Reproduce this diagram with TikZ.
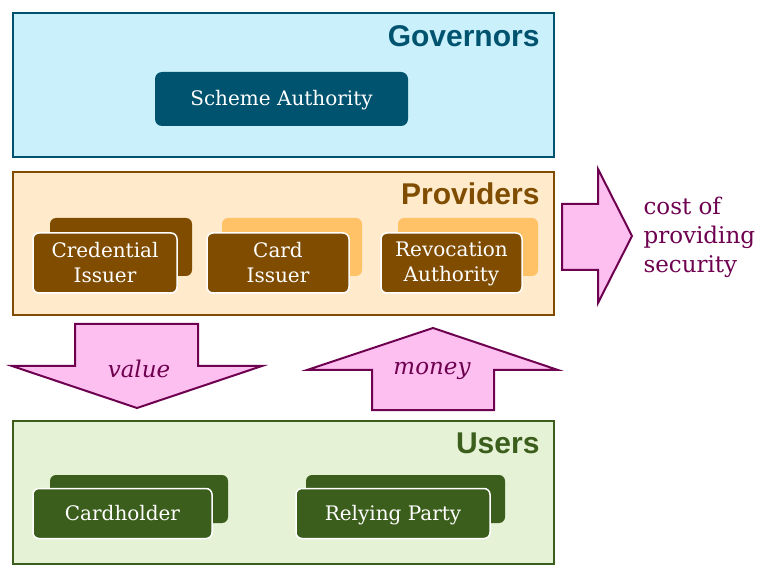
\documentclass[tikz,border=0pt]{standalone}
\usepackage{fontspec}
\setmainfont{DejaVu Serif}
\newfontfamily\headfont{Liberation Sans}
\begin{document}
\begin{tikzpicture}[x=1pt,y=-1pt,
  panel/.style={draw=#1,line width=2pt},
  head/.style={anchor=east,font=\headfont\bfseries\fontsize{30}{32}\selectfont},
  card/.style={rounded corners=6pt,draw=white,line width=1.5pt,text=white,align=center,inner sep=0pt,text depth=2pt,font=\fontsize{20}{25}\selectfont},
  back/.style={rounded corners=6pt,fill=#1},
  arr/.style={fill=pinkf,draw=plum,line width=2pt,line join=miter},
  lbl/.style={text=plum,font=\itshape\fontsize{23}{25}\selectfont}]
\definecolor{govf}{HTML}{C9F0FB}\definecolor{govd}{HTML}{00536E}
\definecolor{prof}{HTML}{FFEBCC}\definecolor{prod}{HTML}{7F4C00}\definecolor{prol}{HTML}{FFC266}
\definecolor{usef}{HTML}{E5F2D6}\definecolor{used}{HTML}{3B5E1C}
\definecolor{pinkf}{HTML}{FDBFF0}\definecolor{plum}{HTML}{6E0050}
\useasboundingbox (0,0) rectangle (772,580);
% Governors
\node[panel=govd,fill=govf,minimum width=541,minimum height=144,anchor=north west] (gov) at (12,12) {};
\node[head,text=govd] (govt) at (543,36) {Governors};
\node[fill=govd,rounded corners=7pt,text=white,minimum width=253,minimum height=54,text depth=2pt,font=\fontsize{20}{24}\selectfont] (sa) at (281.5,99) {Scheme Authority};
% Providers
\node[panel=prod,fill=prof,minimum width=541,minimum height=143,anchor=north west] (pro) at (12,171) {};
\node[head,text=prod] (prot) at (543,194) {Providers};
\fill[back=prod] (50,218) rectangle (192,276);
\fill[back=prol] (222,218) rectangle (362,276);
\fill[back=prol] (398,218) rectangle (538,276);
\node[card,fill=prod,minimum width=144,minimum height=60] (ci) at (105,263) {Credential\\Issuer};
\node[card,fill=prod,minimum width=142,minimum height=60] (cdi) at (278,263) {Card\\Issuer};
\node[card,fill=prod,minimum width=141,minimum height=60] (ra) at (451.5,263) {Revocation\\Authority};
% Users
\node[panel=used,fill=usef,minimum width=541,minimum height=143,anchor=north west] (use) at (12,420) {};
\node[head,text=used] (uset) at (543,443) {Users};
\fill[back=used] (50,475) rectangle (228,523);
\fill[back=used] (306,475) rectangle (505,523);
\node[card,fill=used,minimum width=179,minimum height=50] (ch) at (122.5,513.5) {Cardholder};
\node[card,fill=used,minimum width=194,minimum height=50] (rp) at (393,513.5) {Relying Party};
% Arrows
\draw[arr] (75,324) -- (198,324) -- (198,366) -- (262,366) -- (137,408) -- (12,366) -- (75,366) -- cycle;
\node[lbl] (val) at (139,369) {value};
\draw[arr] (372,410) -- (494,410) -- (494,370) -- (558,370) -- (433,328) -- (307,370) -- (372,370) -- cycle;
\node[lbl] (mon) at (432,371) {money};
\draw[arr] (562,204) -- (598,204) -- (598,169) -- (632,236) -- (598,303) -- (598,270) -- (562,270) -- cycle;
\node[anchor=west,text=plum,align=left,font=\fontsize{23}{29}\selectfont] (cost) at (640,237) {cost of\\providing\\security};
\end{tikzpicture}
\end{document}
